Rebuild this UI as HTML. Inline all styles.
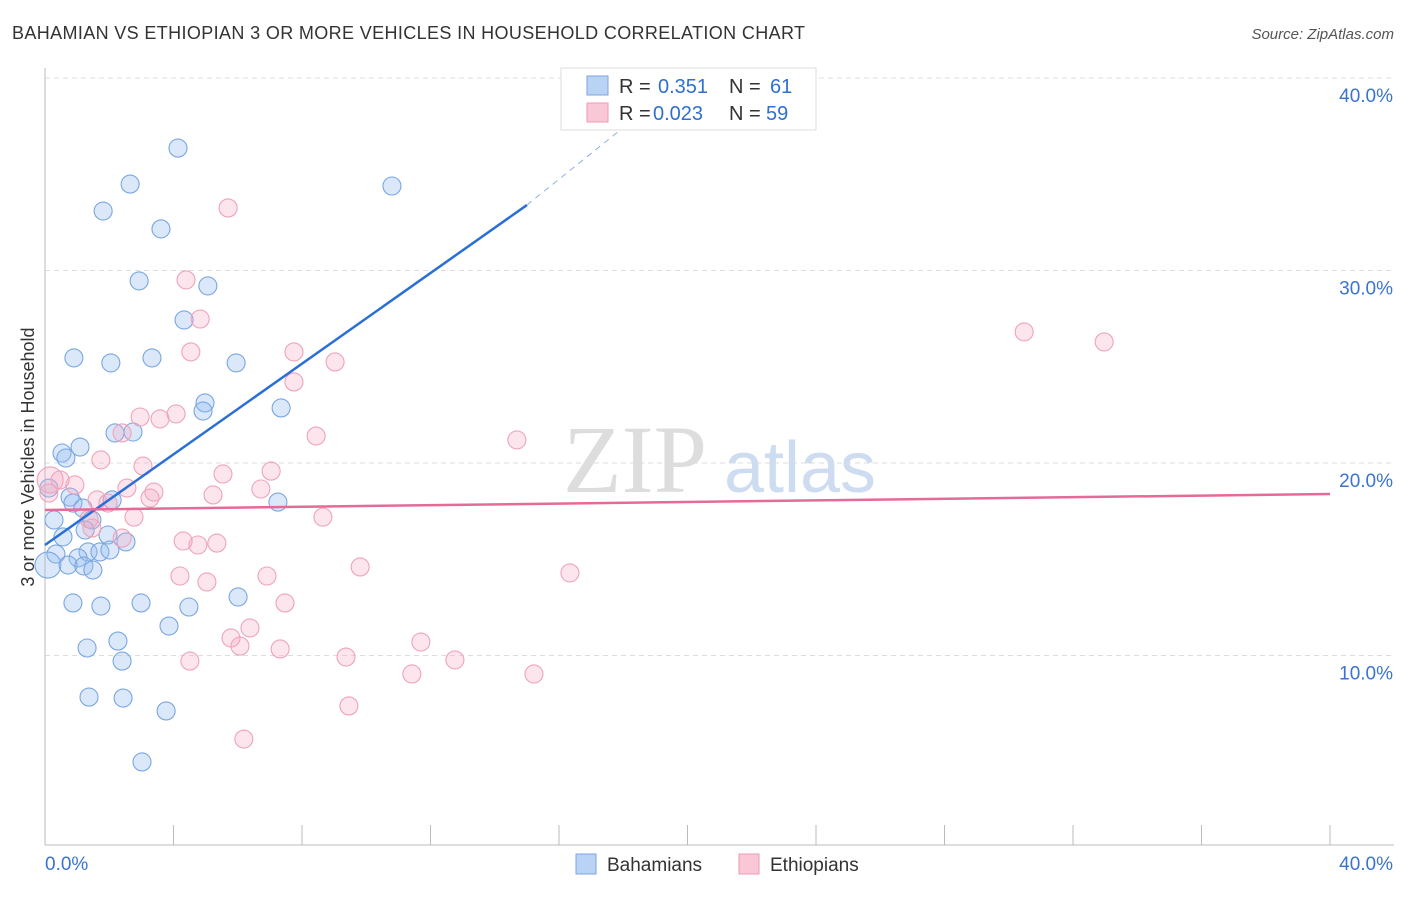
<!DOCTYPE html>
<html><head><meta charset="utf-8"><style>
body{margin:0;background:#fff;font-family:"Liberation Sans",sans-serif;}
</style></head><body>
<svg id="c" width="1406" height="892" xmlns="http://www.w3.org/2000/svg">
<text x="12" y="39" font-size="18" fill="#333" textLength="793">BAHAMIAN VS ETHIOPIAN 3 OR MORE VEHICLES IN HOUSEHOLD CORRELATION CHART</text>
<text x="1394" y="39" font-size="15" fill="#555" font-style="italic" text-anchor="end">Source: ZipAtlas.com</text>
<text x="34" y="457" font-size="18" fill="#333" text-anchor="middle" transform="rotate(-90 34 457)">3 or more Vehicles in Household</text>
<g><text x="635" y="492" font-size="96" font-family="Liberation Serif,serif" fill="#ddd" text-anchor="middle">ZIP</text><text x="800" y="492" font-size="72" fill="#cddcf0" text-anchor="middle">atlas</text></g>
<g id="grid"></g><g id="marks"></g><g id="lines"></g>
<g>
<rect x="561" y="68" width="255" height="62" fill="#fff" stroke="#ddd"/>
<rect x="587" y="76" width="21" height="19" fill="#b9d3f5" stroke="#7aa6e0"/>
<rect x="587" y="103" width="21" height="19" fill="#f9c8d6" stroke="#ee9ab3"/>
<text x="619" y="93" font-size="20" fill="#333">R =</text>
<text x="658" y="93" font-size="20" fill="#2f6fd0">0.351</text>
<text x="729" y="93" font-size="20" fill="#333">N =</text>
<text x="770" y="93" font-size="20" fill="#2f6fd0">61</text>
<text x="619" y="120" font-size="20" fill="#333">R =</text>
<text x="653" y="120" font-size="20" fill="#2f6fd0">0.023</text>
<text x="729" y="120" font-size="20" fill="#333">N =</text>
<text x="766" y="120" font-size="20" fill="#2f6fd0">59</text>
</g>
<g>
<rect x="576" y="854" width="20" height="20" fill="#b9d3f5" stroke="#7aa6e0"/>
<text x="607" y="871" font-size="19" fill="#333">Bahamians</text>
<rect x="739" y="854" width="20" height="20" fill="#f9c8d6" stroke="#ee9ab3"/>
<text x="770" y="871" font-size="19" fill="#333">Ethiopians</text>
</g>
</svg>
<script>
const yTicks=[10,20,30,40];
const xTickLabels=["0.0%","40.0%"];
const bahX=[4.14,2.65,10.80,1.81,3.61,2.93,5.07,4.33,0.90,2.05,3.33,5.95,4.98,4.92,7.35,2.74,2.18,1.09,0.53,0.65,0.12,0.78,0.87,2.09,1.18,0.28,1.46,7.25,1.96,0.56,1.25,2.52,1.34,1.71,2.02,0.34,1.03,0.09,0.72,1.21,1.49,0.87,1.74,2.99,4.48,6.01,3.86,2.27,1.31,2.40,1.37,2.43,3.77,3.02];
const bahY=[36.36,34.49,34.39,33.09,32.16,29.46,29.20,27.43,25.46,25.20,25.46,25.20,23.12,22.70,22.86,21.61,21.56,20.83,20.52,20.26,18.70,18.23,17.92,18.08,17.66,17.04,17.04,17.97,16.26,16.16,16.52,15.90,15.38,15.38,15.48,15.27,15.07,14.70,14.70,14.65,14.44,12.73,12.57,12.73,12.52,13.04,11.53,10.75,10.39,9.71,7.84,7.79,7.12,4.47];
const ethX=[5.70,4.39,4.83,7.75,4.54,9.03,7.75,4.08,2.96,3.58,8.44,2.40,14.69,1.74,3.05,5.54,7.04,0.47,0.93,0.12,2.55,3.39,6.72,5.23,3.27,1.62,1.96,1.37,2.77,8.65,1.46,2.40,4.76,5.35,4.30,9.81,16.34,4.20,5.04,6.91,7.47,6.38,5.79,6.07,7.32,11.70,9.37,12.76,4.51,11.42,15.22,9.46,6.19,30.48,32.97,0.16];
const ethY=[33.25,29.51,27.48,25.77,25.77,25.25,24.21,22.55,22.39,22.29,21.40,21.56,21.20,20.16,19.84,19.43,19.58,19.12,18.86,18.44,18.70,18.49,18.65,18.34,18.18,18.08,17.92,17.09,17.19,17.19,16.62,16.10,15.74,15.84,15.95,14.60,14.29,14.13,13.82,14.13,12.73,11.43,10.91,10.49,10.34,10.70,9.92,9.77,9.71,9.04,9.04,7.38,5.66,26.81,26.29,19.12];
const bahTrend=[0,15.74,15,33.4,19.4,39.3];
const ethTrend=[0,17.56,40,18.39];
const NS="http://www.w3.org/2000/svg";
const sx=v=>45+v*32.125, sy=v=>848-v*19.25;
function mk(t,a,p){const e=document.createElementNS(NS,t);for(const k in a)e.setAttribute(k,a[k]);p.appendChild(e);return e;}
const grid=document.getElementById('grid');
for(const t of yTicks){
 const l=mk('line',{x1:45,x2:1394,y1:sy(t),y2:sy(t),stroke:'#ddd','stroke-dasharray':'5,4'},grid);
 
 
 const tx=mk('text',{x:1393,y:sy(t)+24,'font-size':19,fill:'#3a74d0','text-anchor':'end'},grid);
 tx.textContent=t.toFixed(1)+'%';
 
 
}
const ax=mk('line',{x1:45,x2:45,y1:68,y2:845,stroke:'#bbb'},grid);


const bx=mk('line',{x1:45,x2:1394,y1:845,y2:845,stroke:'#bbb'},grid);


for(let i=0;i<=10;i++){const t=mk('line',{x1:sx(i*4),x2:sx(i*4),y1:825,y2:845,stroke:'#bbb'},grid);
 
 }
[[45,'start'],[1393,'end']].forEach((p,i)=>{const t=mk('text',{x:p[0],y:870,'font-size':19,fill:'#3a74d0','text-anchor':p[1]},grid);t.textContent=xTickLabels[i];
 
 });
const marks=document.getElementById('marks');
bahX.forEach((x,i)=>{const c=mk('circle',{cx:sx(x),cy:sy(bahY[i]),r:i==37?13:9,fill:'rgba(150,190,240,0.35)',stroke:'#7aa6e0','stroke-width':1.1},marks);
 
 });
ethX.forEach((x,i)=>{const c=mk('circle',{cx:sx(x),cy:sy(ethY[i]),r:i==55?13:9,fill:'rgba(245,170,195,0.3)',stroke:'#efa3ba','stroke-width':1.1},marks);
 
 });
const lines=document.getElementById('lines');
const b1=mk('line',{x1:sx(bahTrend[0]),y1:sy(bahTrend[1]),x2:sx(bahTrend[2]),y2:sy(bahTrend[3]),stroke:'#2a6fd6','stroke-width':2.5},lines);


const b2=mk('line',{x1:sx(bahTrend[2]),y1:sy(bahTrend[3]),x2:sx(bahTrend[4]),y2:sy(bahTrend[5]),stroke:'#8fb0e0','stroke-width':1,'stroke-dasharray':'6,5'},lines);


const e1=mk('line',{x1:sx(ethTrend[0]),y1:sy(ethTrend[1]),x2:sx(ethTrend[2]),y2:sy(ethTrend[3]),stroke:'#e66a97','stroke-width':2.5},lines);


</script>
</body></html>
